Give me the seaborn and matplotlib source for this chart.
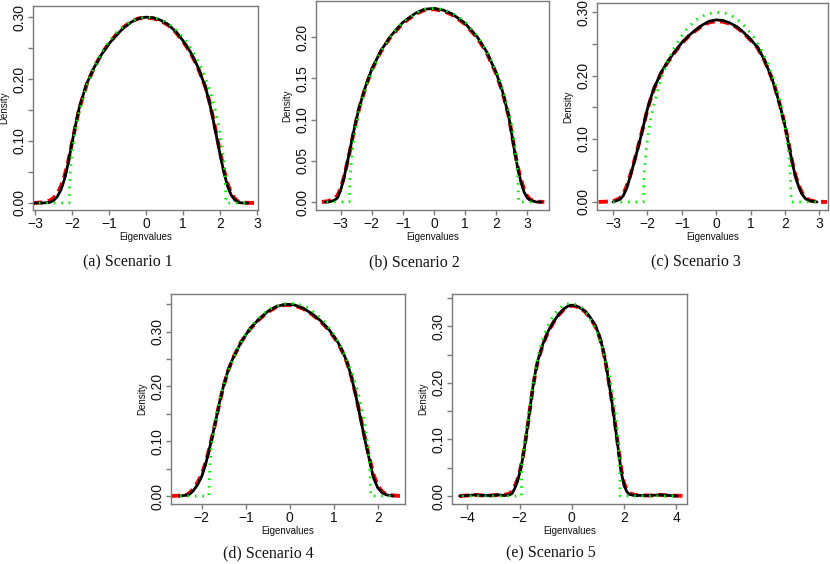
import matplotlib
matplotlib.use("Agg")
import matplotlib.pyplot as plt
import seaborn as sns
import pandas as pd

# ---------------- Panel (a) Scenario 1 ----------------
a_black_x = [-3.0, -2.8, -2.6, -2.5, -2.4, -2.3, -2.2, -2.1, -2.0, -1.9, -1.8, -1.6, -1.4, -1.2, -1.0,
             -0.8, -0.6, -0.4, -0.2, 0.0, 0.2, 0.4, 0.6, 0.8, 1.0, 1.2, 1.4, 1.6, 1.7, 1.8, 1.9, 2.0,
             2.1, 2.2, 2.3, 2.4, 2.5, 2.6, 2.75]
a_black_y = [0, 0, 0.001, 0.004, 0.010, 0.021, 0.039, 0.065, 0.097, 0.127, 0.155, 0.193, 0.219, 0.240,
             0.257, 0.271, 0.283, 0.292, 0.298, 0.300, 0.299, 0.295, 0.288, 0.277, 0.262, 0.244, 0.220,
             0.188, 0.166, 0.139, 0.109, 0.079, 0.051, 0.028, 0.013, 0.005, 0.001, 0, 0]
a_red_x = [-3.05, -2.8, -2.6, -2.5, -2.4, -2.3, -2.2, -2.1, -2.0, -1.9, -1.8, -1.6, -1.4, -1.2, -1.0,
           -0.8, -0.6, -0.4, -0.2, 0.0, 0.2, 0.4, 0.6, 0.8, 1.0, 1.2, 1.4, 1.6, 1.7, 1.8, 1.9, 2.0,
           2.1, 2.2, 2.3, 2.4, 2.5, 2.6, 3.0]
a_red_y = [0, 0.001, 0.004, 0.008, 0.015, 0.027, 0.044, 0.068, 0.097, 0.126, 0.153, 0.192, 0.219, 0.241,
           0.258, 0.272, 0.284, 0.293, 0.298, 0.299, 0.298, 0.294, 0.287, 0.276, 0.261, 0.243, 0.219,
           0.188, 0.167, 0.141, 0.112, 0.083, 0.055, 0.032, 0.016, 0.007, 0.002, 0.0005, 0]
a_green_x = [-2.9, -2.4, -2.08, -2.06, -2.0, -1.9, -1.8, -1.6, -1.4, -1.2, -1.0, -0.8, -0.6, -0.4, -0.2,
             0.04, 0.3, 0.5, 0.7, 0.9, 1.1, 1.3, 1.5, 1.7, 1.8, 1.9, 2.0, 2.1, 2.14, 2.16, 2.4, 2.75]
a_green_y = [0, 0, 0, 0.041, 0.082, 0.121, 0.149, 0.190, 0.220, 0.243, 0.261, 0.275, 0.286, 0.293, 0.298,
             0.300, 0.298, 0.293, 0.285, 0.274, 0.260, 0.241, 0.218, 0.187, 0.167, 0.144, 0.114, 0.071,
             0.041, 0, 0, 0]

# ---------------- Panel (b) Scenario 2 ----------------
b_black_x = [-3.5, -3.4, -3.2, -3.1, -3.0, -2.9, -2.8, -2.7, -2.6, -2.5, -2.4, -2.2, -2.0, -1.7, -1.4,
             -1.0, -0.6, -0.3, 0.0, 0.3, 0.6, 1.0, 1.4, 1.7, 2.0, 2.2, 2.4, 2.5, 2.6, 2.7, 2.8, 2.9,
             3.0, 3.1, 3.3, 3.45]
b_black_y = [0, 0, 0.002, 0.005, 0.014, 0.028, 0.045, 0.063, 0.082, 0.099, 0.115, 0.140, 0.161, 0.184,
             0.201, 0.218, 0.229, 0.234, 0.235, 0.233, 0.228, 0.217, 0.200, 0.182, 0.157, 0.135, 0.105,
             0.083, 0.060, 0.040, 0.024, 0.012, 0.005, 0.002, 0, 0]
b_red_x = [-3.6, -3.4, -3.2, -3.1, -3.0, -2.9, -2.8, -2.7, -2.6, -2.5, -2.4, -2.2, -2.0, -1.7, -1.4,
           -1.0, -0.6, -0.3, 0.0, 0.3, 0.6, 1.0, 1.4, 1.7, 2.0, 2.2, 2.4, 2.5, 2.6, 2.7, 2.8, 2.9,
           3.0, 3.1, 3.3, 3.55]
b_red_y = [0, 0.001, 0.004, 0.008, 0.016, 0.029, 0.045, 0.062, 0.081, 0.098, 0.114, 0.139, 0.160, 0.183,
           0.200, 0.217, 0.228, 0.233, 0.234, 0.232, 0.227, 0.216, 0.199, 0.181, 0.156, 0.134, 0.105,
           0.084, 0.062, 0.042, 0.027, 0.015, 0.007, 0.003, 0.0005, 0]
b_green_x = [-3.45, -2.9, -2.72, -2.7, -2.6, -2.5, -2.4, -2.2, -2.0, -1.7, -1.4, -1.0, -0.6, -0.3, 0.0,
             0.3, 0.6, 1.0, 1.4, 1.7, 2.0, 2.2, 2.4, 2.5, 2.6, 2.68, 2.71, 2.72, 2.9, 3.3]
b_green_y = [0, 0, 0, 0.029, 0.069, 0.093, 0.111, 0.138, 0.159, 0.183, 0.201, 0.219, 0.229, 0.234, 0.235,
             0.234, 0.229, 0.219, 0.201, 0.183, 0.159, 0.138, 0.111, 0.093, 0.069, 0.040, 0.020, 0, 0, 0]

# ---------------- Panel (c) Scenario 3 ----------------
c_black_x = [-3.0, -2.8, -2.7, -2.6, -2.5, -2.4, -2.3, -2.2, -2.1, -2.0, -1.9, -1.8, -1.6, -1.4, -1.2,
             -1.0, -0.8, -0.6, -0.4, -0.2, 0.0, 0.2, 0.4, 0.6, 0.8, 1.0, 1.2, 1.4, 1.6, 1.7, 1.8, 1.9,
             2.0, 2.1, 2.2, 2.3, 2.4, 2.5, 2.6, 2.7, 2.93]
c_black_y = [0, 0.004, 0.010, 0.022, 0.040, 0.060, 0.080, 0.101, 0.124, 0.147, 0.165, 0.181, 0.205, 0.223,
             0.238, 0.252, 0.263, 0.272, 0.280, 0.286, 0.288, 0.287, 0.283, 0.277, 0.268, 0.257, 0.245,
             0.225, 0.198, 0.182, 0.163, 0.143, 0.120, 0.093, 0.065, 0.041, 0.024, 0.012, 0.005, 0.002, 0]
c_red_x = [-3.42, -3.0, -2.8, -2.7, -2.6, -2.5, -2.4, -2.3, -2.2, -2.1, -2.0, -1.9, -1.8, -1.6, -1.4,
           -1.2, -1.0, -0.8, -0.6, -0.4, -0.2, 0.0, 0.2, 0.4, 0.6, 0.8, 1.0, 1.2, 1.4, 1.6, 1.7, 1.8,
           1.9, 2.0, 2.1, 2.2, 2.3, 2.4, 2.5, 2.6, 2.7, 2.9, 3.22]
c_red_y = [0, 0.001, 0.006, 0.013, 0.025, 0.042, 0.061, 0.081, 0.102, 0.124, 0.146, 0.164, 0.180, 0.204,
           0.222, 0.237, 0.251, 0.262, 0.271, 0.279, 0.284, 0.286, 0.285, 0.282, 0.276, 0.267, 0.256,
           0.244, 0.224, 0.198, 0.182, 0.164, 0.144, 0.121, 0.094, 0.066, 0.043, 0.026, 0.014, 0.007,
           0.003, 0.0005, 0]
c_green_x = [-3.0, -2.5, -2.12, -2.1, -2.05, -2.0, -1.9, -1.8, -1.6, -1.4, -1.2, -1.0, -0.8, -0.6, -0.4,
             -0.2, 0.03, 0.3, 0.5, 0.7, 0.9, 1.1, 1.3, 1.5, 1.7, 1.8, 1.9, 2.0, 2.1, 2.15, 2.18, 2.5, 2.93]
c_green_y = [0, 0, 0, 0.041, 0.076, 0.099, 0.132, 0.157, 0.196, 0.224, 0.246, 0.263, 0.277, 0.287, 0.294,
             0.298, 0.300, 0.298, 0.293, 0.285, 0.274, 0.260, 0.242, 0.219, 0.189, 0.170, 0.148, 0.120,
             0.081, 0.050, 0, 0, 0]

# ---------------- Panel (d) Scenario 4 ----------------
d_black_x = [-2.5, -2.3, -2.2, -2.1, -2.0, -1.9, -1.8, -1.7, -1.6, -1.5, -1.4, -1.3, -1.1, -0.9, -0.7,
             -0.5, -0.3, -0.1, 0.1, 0.3, 0.5, 0.7, 0.9, 1.1, 1.2, 1.3, 1.4, 1.5, 1.6, 1.7, 1.8, 1.9,
             2.0, 2.1, 2.2, 2.35]
d_black_y = [0, 0.002, 0.009, 0.020, 0.036, 0.062, 0.095, 0.131, 0.170, 0.203, 0.230, 0.250, 0.282, 0.306,
             0.323, 0.337, 0.346, 0.350, 0.349, 0.343, 0.333, 0.320, 0.303, 0.280, 0.264, 0.245, 0.218,
             0.184, 0.145, 0.106, 0.070, 0.034, 0.015, 0.006, 0.002, 0]
d_red_x = [-2.7, -2.4, -2.3, -2.2, -2.1, -2.0, -1.9, -1.8, -1.7, -1.6, -1.5, -1.4, -1.3, -1.1, -0.9,
           -0.7, -0.5, -0.3, -0.1, 0.1, 0.3, 0.5, 0.7, 0.9, 1.1, 1.2, 1.3, 1.4, 1.5, 1.6, 1.7, 1.8,
           1.9, 2.0, 2.1, 2.2, 2.4, 2.58]
d_red_y = [0, 0.001, 0.004, 0.012, 0.024, 0.040, 0.064, 0.096, 0.131, 0.169, 0.202, 0.229, 0.250, 0.282,
           0.305, 0.322, 0.336, 0.345, 0.349, 0.348, 0.342, 0.332, 0.319, 0.302, 0.279, 0.263, 0.244,
           0.218, 0.185, 0.147, 0.109, 0.073, 0.040, 0.019, 0.008, 0.003, 0.0005, 0]
d_green_x = [-2.5, -2.1, -1.84, -1.82, -1.78, -1.7, -1.6, -1.5, -1.4, -1.2, -1.0, -0.8, -0.6, -0.4, -0.2,
             0.0, 0.2, 0.4, 0.6, 0.8, 1.0, 1.2, 1.4, 1.5, 1.6, 1.7, 1.78, 1.82, 1.84, 2.1, 2.35]
d_green_y = [0, 0, 0, 0.052, 0.089, 0.135, 0.174, 0.204, 0.228, 0.267, 0.295, 0.317, 0.333, 0.344, 0.350,
             0.352, 0.350, 0.344, 0.333, 0.317, 0.295, 0.267, 0.228, 0.204, 0.174, 0.135, 0.089, 0.052,
             0, 0, 0]

# ---------------- Panel (e) Scenario 5 ----------------
e_black_x = [-4.3, -4.0, -3.7, -3.4, -3.1, -2.8, -2.6, -2.4, -2.3, -2.2, -2.1, -2.0, -1.9, -1.8, -1.7,
             -1.6, -1.5, -1.4, -1.3, -1.1, -0.9, -0.7, -0.5, -0.3, -0.1, 0.1, 0.3, 0.5, 0.7, 0.9, 1.0,
             1.1, 1.2, 1.3, 1.4, 1.5, 1.6, 1.7, 1.8, 1.9, 2.0, 2.1, 2.2, 2.4, 2.7, 3.0, 3.4, 3.7, 4.03]
e_black_y = [0, 0.001, 0.002, 0.001, 0.001, 0.002, 0.001, 0.002, 0.004, 0.012, 0.024, 0.040, 0.062, 0.090,
             0.122, 0.156, 0.190, 0.218, 0.240, 0.270, 0.292, 0.308, 0.321, 0.331, 0.337, 0.337, 0.333,
             0.327, 0.316, 0.301, 0.290, 0.276, 0.258, 0.235, 0.206, 0.177, 0.145, 0.110, 0.075, 0.040,
             0.019, 0.008, 0.003, 0.001, 0.001, 0.001, 0.002, 0.001, 0]
e_red_x = [-4.3, -4.0, -3.7, -3.4, -3.1, -2.8, -2.6, -2.4, -2.3, -2.2, -2.1, -2.0, -1.9, -1.8, -1.7,
           -1.6, -1.5, -1.4, -1.3, -1.1, -0.9, -0.7, -0.5, -0.3, -0.1, 0.1, 0.3, 0.5, 0.7, 0.9, 1.0,
           1.1, 1.2, 1.3, 1.4, 1.5, 1.6, 1.7, 1.8, 1.9, 2.0, 2.1, 2.2, 2.4, 2.7, 3.0, 3.4, 3.7, 4.41]
e_red_y = [0, 0.001, 0.002, 0.001, 0.001, 0.002, 0.002, 0.004, 0.008, 0.016, 0.027, 0.042, 0.063, 0.090,
           0.121, 0.155, 0.189, 0.217, 0.239, 0.269, 0.291, 0.307, 0.320, 0.330, 0.336, 0.336, 0.332,
           0.326, 0.315, 0.300, 0.289, 0.275, 0.257, 0.234, 0.206, 0.177, 0.146, 0.112, 0.078, 0.045,
           0.023, 0.011, 0.005, 0.002, 0.001, 0.001, 0.002, 0.001, 0]
e_green_x = [-4.2, -3.0, -1.93, -1.93, -1.9, -1.8, -1.7, -1.6, -1.5, -1.3, -1.1, -0.9, -0.7, -0.5, -0.3,
             -0.04, 0.2, 0.4, 0.6, 0.8, 1.0, 1.2, 1.4, 1.5, 1.6, 1.7, 1.76, 1.81, 1.83, 1.85, 3.0, 4.0]
e_green_y = [0, 0, 0, 0.050, 0.064, 0.095, 0.128, 0.162, 0.195, 0.247, 0.280, 0.303, 0.320, 0.331, 0.338,
             0.341, 0.338, 0.332, 0.321, 0.305, 0.285, 0.257, 0.221, 0.198, 0.170, 0.133, 0.104, 0.070,
             0.049, 0, 0, 0]

# ---------------- Axis ticks / captions ----------------
captions = ["(a) Scenario 1", "(b) Scenario 2", "(c) Scenario 3", "(d) Scenario 4", "(e) Scenario 5"]
a_xticks = [-3, -2, -1, 0, 1, 2, 3]
b_xticks = [-3, -2, -1, 0, 1, 2, 3]
c_xticks = [-3, -2, -1, 0, 1, 2, 3]
d_xticks = [-2, -1, 0, 1, 2]
e_xticks = [-4, -2, 0, 2, 4]
a_yticks = [0.00, 0.05, 0.10, 0.15, 0.20, 0.25, 0.30]
a_ylabels = ["0.00", "", "0.10", "", "0.20", "", "0.30"]
b_yticks = [0.00, 0.05, 0.10, 0.15, 0.20]
b_ylabels = ["0.00", "0.05", "0.10", "0.15", "0.20"]
d_yticks = [0.00, 0.05, 0.10, 0.15, 0.20, 0.25, 0.30, 0.35]
d_ylabels = ["0.00", "", "0.10", "", "0.20", "", "0.30", ""]

sns.set_theme(style="ticks")
plt.rcParams['font.family'] = ['Liberation Sans', 'DejaVu Sans']
plt.rcParams['axes.unicode_minus'] = True

W, H = 830, 564
fig = plt.figure(figsize=(W / 100, H / 100), dpi=100)
fig.patch.set_facecolor("white")

# (left, top, right, bottom) in pixels, xlim, ylim, caption centre
panels = [
    dict(box=(33, 6, 258, 210), xlim=(-3.054, 3.027), ylim=(-0.0113, 0.318),
         black=(a_black_x, a_black_y), red=(a_red_x, a_red_y), green=(a_green_x, a_green_y),
         xt=a_xticks, yt=a_yticks, yl=a_ylabels, cpos=(128, 262)),
    dict(box=(316, 1, 549, 210), xlim=(-3.79, 3.70), ylim=(-0.0097, 0.244),
         black=(b_black_x, b_black_y), red=(b_red_x, b_red_y), green=(b_green_x, b_green_y),
         xt=b_xticks, yt=b_yticks, yl=b_ylabels, cpos=(414, 262)),
    dict(box=(597, 3, 828, 210), xlim=(-3.465, 3.25), ylim=(-0.0127, 0.3147),
         black=(c_black_x, c_black_y), red=(c_red_x, c_red_y), green=(c_green_x, c_green_y),
         xt=c_xticks, yt=a_yticks, yl=a_ylabels, cpos=(696, 262)),
    dict(box=(171, 294, 405, 504), xlim=(-2.70, 2.62), ylim=(-0.0146, 0.3688),
         black=(d_black_x, d_black_y), red=(d_red_x, d_red_y), green=(d_green_x, d_green_y),
         xt=d_xticks, yt=d_yticks, yl=d_ylabels, cpos=(268, 553)),
    dict(box=(452, 294, 687, 504), xlim=(-4.59, 4.41), ylim=(-0.0141, 0.357),
         black=(e_black_x, e_black_y), red=(e_red_x, e_red_y), green=(e_green_x, e_green_y),
         xt=e_xticks, yt=d_yticks, yl=d_ylabels, cpos=(551, 553)),
]

frame_col = "#7a7a7a"
for p, caption in zip(panels, captions):
    l, t, r, b = p["box"]
    ax = fig.add_axes([l / W, 1 - b / H, (r - l) / W, (b - t) / H])
    ax.set_facecolor("white")
    rx, ry = p["red"]
    kx, ky = p["black"]
    gx, gy = p["green"]
    sns.lineplot(x=rx, y=ry, ax=ax, color="#ff0000", linewidth=2.8, linestyle=(0, (2.4, 1.4)),
                 sort=False, estimator=None, zorder=2)
    sns.lineplot(x=kx, y=ky, ax=ax, color="black", linewidth=2.0, sort=False, estimator=None, zorder=3)
    sns.lineplot(x=gx, y=gy, ax=ax, color="#00f000", linewidth=2.0, linestyle=(0, (0.6, 2.1)),
                 sort=False, estimator=None, zorder=4)
    ax.set_xlim(*p["xlim"])
    ax.set_ylim(*p["ylim"])
    ax.set_xticks(p["xt"])
    ax.set_xticklabels([("\u2212" + str(abs(v))) if v < 0 else str(v) for v in p["xt"]])
    ax.set_yticks(p["yt"])
    ax.set_yticklabels(p["yl"])
    for s in ax.spines.values():
        s.set_visible(True)
        s.set_color(frame_col)
        s.set_linewidth(1.0)
    ax.tick_params(axis="both", direction="out", length=3.6, width=1.0, color=frame_col,
                   labelsize=10, labelcolor="#111111", pad=1.2)
    ax.tick_params(axis="y", labelrotation=90)
    for lab in ax.get_yticklabels():
        lab.set_va("center")
    ax.set_xlabel("Eigenvalues", fontsize=7, color="#111111")
    ax.set_ylabel("Density", fontsize=7, color="#111111")
    ax.xaxis.label.set_va("center")
    ax.yaxis.label.set_va("center")
    ax.xaxis.set_label_coords(0.5, -27.5 / (b - t))
    ax.yaxis.set_label_coords(-29.0 / (r - l), 0.5)
    cx, cy = p["cpos"]
    fig.text(cx / W, 1 - cy / H, caption, ha="center", va="center",
             fontsize=11.5, family=["Liberation Serif", "DejaVu Serif"], color="#111111")

fig.savefig("out.png", dpi=100, facecolor="white")
